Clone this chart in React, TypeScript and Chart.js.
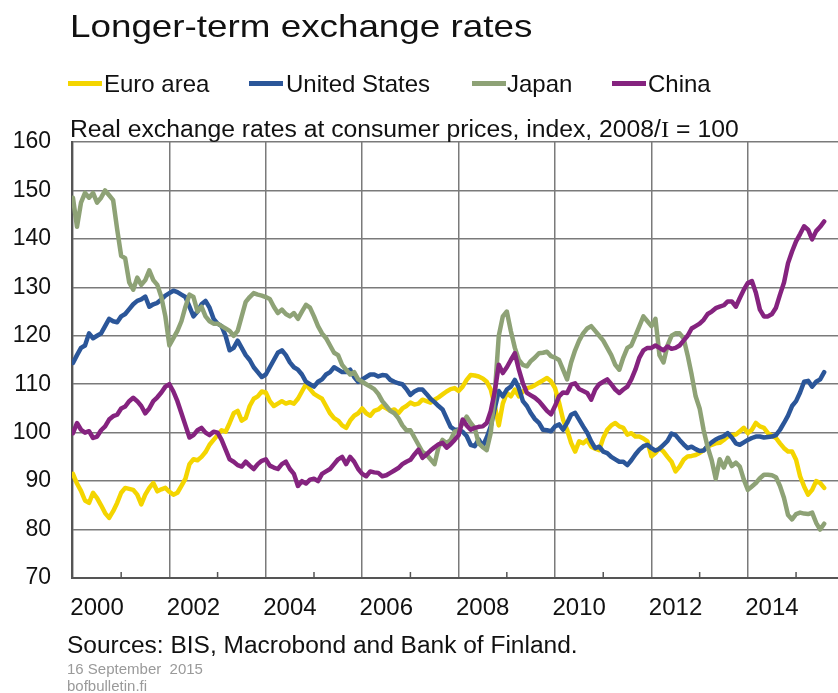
import React, { useEffect, useRef } from "react";
import { Chart, registerables } from "chart.js";

Chart.register(...registerables);

// Monthly data, first value = January 2000
const START_YEAR = 2000;

const EURO_AREA = [
  91.5, 89.5, 88, 86, 85.5, 87.6, 86.5, 85, 83.4, 82.4, 83.8, 85.5,
  87.6, 88.6, 88.4, 88.2, 87.2, 85.2, 87.2, 88.6, 89.6, 87.9, 88.3, 88.6,
  87.8, 87.2, 87.6, 89, 90.5, 93.5, 94.5, 94.3, 95, 96, 97.5, 98.5,
  99.5, 100.5, 100.2, 102, 104, 104.5, 102.5, 103, 105.5, 107, 107.5, 108.5,
  108.3, 106.5, 105.5, 106, 106.5, 106, 106.3, 106, 107, 108.5, 110, 109,
  108, 107.5, 107, 105.5, 104, 103, 102.5, 101.5, 101, 102.5, 103.5, 104,
  105, 104, 103.5, 104.5, 104.8, 105.5, 105, 104.5, 104.8, 104, 105, 105.5,
  106.2, 105.8, 106, 106.8, 106.5, 106.2, 106.8, 107.3, 107.9, 108.5, 109, 109.2,
  108.6, 109.5, 110.9, 111.9, 111.8, 111.6, 111.2, 110.5, 108.9, 105.5, 101.5, 106,
  108.2, 107.5, 108.9, 107.5, 108.5, 109.2, 109.4, 109.8, 110.3, 110.8, 111.3, 110.6,
  109.2, 106.2, 102.7, 100.6, 97.9, 96.1, 98.2, 97.8, 98.5, 97.1, 96.7, 96.4,
  98.9, 100.6, 101.5, 102, 101.3, 101, 99.6, 99.9, 99.2, 99.2, 98.8, 98.2,
  95.1, 95.8, 96.8, 96.1, 95, 94, 92, 93, 94.4, 95.1, 95.2, 95.4,
  95.8, 96.4, 97.1, 97.5, 97.8, 97.9, 98.5, 99.2, 99.5, 99.6, 100.3, 101,
  99.9, 100.6, 102, 101.3, 101, 99.9, 99.4, 98.9, 97.8, 96.8, 96.1, 96.1,
  94.4, 91, 88.9, 87.2, 88.2, 90, 89.6, 88.6,
];

const UNITED_STATES = [
  114.4, 116, 117.5, 118, 120.5, 119.5, 120, 120.5, 122, 123.5, 123, 122.8,
  124, 124.5, 125.5, 126.5, 127.2, 127.5, 128.1, 126, 126.5, 126.8, 127.5, 128.3,
  128.8, 129.3, 129, 128.5, 128, 126, 124, 125, 126.5, 127.2, 125.8, 123.5,
  122.5, 122, 120, 117, 117.5, 119, 117.5, 116, 115, 113.5, 112.5, 111.5,
  112, 113.5, 115, 116.5, 117, 116, 114.5, 113.5, 113, 112, 110.5, 110,
  109.5, 110.5, 111, 112, 112.5, 113.5, 113, 112.5, 112.5, 113, 111.5, 110.5,
  111, 111.5, 112, 112, 111.6, 111.9, 111.8, 110.9, 110.5, 110.2, 110, 109,
  107.8, 108.5, 108.9, 108.9, 108, 107, 106.3, 105.5, 104.8, 103, 101.2, 100.6,
  100.6, 100.2, 99.3, 97.5, 97.2, 98.6, 97.2, 99, 101.3, 105, 108.6, 107.5,
  108.9, 109.5, 110.9, 109.2, 106.5, 105.5, 104, 102.8, 102, 100.6, 100.5, 100.3,
  101.3, 101.7, 100.6, 102, 103.7, 104.1, 102.7, 101.3, 100, 98.2, 96.8, 97.1,
  96.1, 95.8, 95, 94.5, 94, 94, 93.3, 94.3, 95.5, 96.5, 97.2, 97.5,
  96.8, 96.3, 96.7, 97.5, 98.3, 99.8, 99.5, 98.5, 97.6, 96.8, 97.1, 96.6,
  96.2, 96.3, 97.3, 98, 98.6, 99, 99.3, 99.9, 99, 97.8, 97.5, 98,
  98.5, 98.9, 99.2, 99.2, 99, 99.1, 99.2, 99.5, 100.6, 102, 103.5, 105.5,
  106.5, 108.3, 110.5, 110.7, 109.5, 110.5, 111, 112.5,
];

const JAPAN = [
  148.5, 142.5, 147.5, 149.5, 148.5, 149.5, 147.5, 148.5, 150, 149, 148, 142,
  136.5, 136, 131, 129.5, 132, 130.5, 131.5, 133.5, 131.5, 130.5, 128, 124,
  118, 119.5, 121, 123, 126, 128.5, 128, 125, 126, 124, 123, 122.5,
  122.5, 122, 121.5, 121, 120, 121, 124, 127, 128, 128.8, 128.5, 128.3,
  128, 127.6, 126, 124.7, 125.4, 124.5, 124, 124.7, 123.5, 125, 126.4, 125.8,
  124, 122, 120.5, 119.5, 118, 116.5, 116, 114, 113, 112, 112.5, 111,
  110.5, 110, 109.5, 109, 108, 106.5, 105.5, 104.5, 104, 103, 101.5, 100.5,
  100.5, 99, 97.5, 96, 95.5, 94.5, 93.5, 97, 98.5, 97.8, 98.5, 100.2,
  100.5, 102, 103.3, 102, 101, 97.8, 97, 96.4, 100, 108, 120, 124,
  125, 121, 117.5, 115, 114, 113.7, 114.8, 115.5, 116.4, 116.5, 116.7, 115.8,
  115.5, 115, 113, 111, 114.5, 117, 119, 120.5, 121.5, 122, 121, 120,
  119, 117.5, 116, 114, 113, 115.5, 117.5, 118, 120, 122, 124, 123,
  122, 123.5, 116, 114.5, 118, 120, 120.5, 120.5, 119.5, 116, 112, 107.5,
  105, 100.5, 97, 94.3, 90.5, 94.5, 92.8, 94.8, 93.1, 93.8, 93, 90.3,
  88.2, 88.9, 89.6, 90.6, 91.3, 91.3, 91.2, 90.8, 89, 86.5, 83, 82.1,
  83.2, 83.5, 83.3, 83.2, 83.5, 81.4, 80, 81.2,
];

const CHINA = [
  99.9, 102, 100.6, 100, 100.3, 98.9, 99.2, 100.5, 101.3, 102.7, 103.4, 103.7,
  105, 105.4, 106.5, 107.2, 106.5, 105.5, 104, 105, 106.5, 107.3, 108.3, 109.5,
  110, 108.5, 106.5, 104, 101.5, 99, 99.5, 100.5, 101, 100, 99.5, 100.2,
  100, 98.5, 96.5, 94.5, 94, 93.3, 93, 94, 93.2, 92.5, 93.5, 94.2,
  94.5, 93.2, 92.8, 92.5, 93.5, 94, 92.5, 91.5, 89, 90, 89.5, 90.3,
  90.5, 90, 91.5, 92, 92.5, 93.5, 94.5, 95, 93.5, 95, 94, 92.5,
  91.5, 91, 92, 91.8, 91.7, 91, 91.2, 91.7, 92.2, 92.7, 93.5, 94,
  94.4, 95.5, 96.5, 94.8, 95.5, 96.3, 97, 97.6, 97.9, 96.9, 97.6, 98.5,
  99.5, 102.7, 101.5, 100.6, 101, 101.2, 101.3, 102, 104.5, 108.5, 114, 112.3,
  113.5, 115, 116.4, 113, 110.2, 108.2, 107.7, 107.2, 106.5, 105.5, 104.5, 103.8,
  105.5, 107.5, 108.3, 108.2, 109.9, 110.2, 109, 108.6, 108.2, 106.8, 108.9, 110,
  110.5, 111, 110, 108.9, 108.2, 108.9, 109.5, 111, 113, 115.5, 117, 117.5,
  117.5, 118, 117.5, 117, 117.8, 117.3, 117.5, 118, 119, 120, 121.5, 122,
  122.5, 123.3, 124.5, 125, 125.7, 126, 126.3, 127.1, 127.1, 126, 127.8, 129.5,
  130.9, 131.3, 128.9, 125.4, 124, 124, 124.5, 125.8, 128.5, 131, 135, 137.4,
  139.5, 141, 142.6, 141.9, 139.9, 141.6, 142.5, 143.6,
];

const SERIES_NAMES = ["Euro area", "United States", "Japan", "China"];
const SERIES_VALUES = [EURO_AREA, UNITED_STATES, JAPAN, CHINA];
const SERIES_COLORS = ["#F4D500", "#2B5699", "#8EA276", "#85237F"];

const Y_MIN = 70;
const Y_MAX = 160;
const Y_STEP = 10;
const X_MIN = 1999.98;
const X_MAX = 2015.87;
const GRID_YEARS = [2000, 2002, 2004, 2006, 2008, 2010, 2012, 2014];
const LABEL_YEARS = [2000, 2002, 2004, 2006, 2008, 2010, 2012, 2014];
const MINOR_TICK_YEARS = [2001, 2003, 2005, 2007, 2009, 2011, 2013, 2015];

const TITLE = "Longer-term exchange rates";
const SUBTITLE_A = "Real exchange rates at consumer prices, index, 2008/";
const SUBTITLE_B = "I";
const SUBTITLE_C = " = 100";
const SOURCES = "Sources: BIS, Macrobond and Bank of Finland.";
const DATE_NOTE = "16 September\u00a0 2015";
const SITE_NOTE = "bofbulletin.fi";

const FONT = "'Liberation Sans', Arial, Helvetica, sans-serif";
const GRID_COLOR = "#7a7a7a";
const AXIS_COLOR = "#555555";
const TEXT_COLOR = "#111111";

const LEGEND_POS = [
  { line: 68, text: 104 },
  { line: 249, text: 286 },
  { line: 472, text: 507 },
  { line: 612, text: 648 },
];

const minorTicksPlugin = {
  id: "minorTicks",
  afterDatasetsDraw(chart: any) {
    const { ctx, chartArea } = chart;
    const x = chart.scales.x;
    ctx.save();
    ctx.strokeStyle = AXIS_COLOR;
    ctx.lineWidth = 1.5;
    MINOR_TICK_YEARS.forEach((yr) => {
      const px = x.getPixelForValue(yr);
      if (px < chartArea.left || px > chartArea.right) return;
      ctx.beginPath();
      ctx.moveTo(px, chartArea.bottom);
      ctx.lineTo(px, chartArea.bottom - 6);
      ctx.stroke();
    });
    ctx.restore();
  },
};

export default function App() {
  const canvasRef = useRef<HTMLCanvasElement | null>(null);

  useEffect(() => {
    if (!canvasRef.current) return;
    const xTicks: number[] = [];
    GRID_YEARS.forEach((y) => xTicks.push(y));
    LABEL_YEARS.forEach((y) => xTicks.push(y + 0.5));
    xTicks.sort((a, b) => a - b);

    const chart = new Chart(canvasRef.current, {
      type: "line",
      data: {
        datasets: SERIES_NAMES.map((name, k) => ({
          label: name,
          data: SERIES_VALUES[k].map((v, i) => ({ x: START_YEAR + i / 12, y: v })),
          borderColor: SERIES_COLORS[k],
          backgroundColor: SERIES_COLORS[k],
          borderWidth: 4.5,
          pointRadius: 0,
          tension: 0,
          borderJoinStyle: "round" as const,
          borderCapStyle: "round" as const,
          order: SERIES_NAMES.length - k,
        })),
      },
      options: {
        animation: false,
        responsive: false,
        maintainAspectRatio: false,
        layout: { padding: { top: 142, left: 0, right: 0, bottom: 65 } },
        plugins: {
          legend: { display: false },
          title: { display: false },
          tooltip: { enabled: false },
        },
        scales: {
          x: {
            type: "linear",
            min: X_MIN,
            max: X_MAX,
            afterBuildTicks: (scale: any) => {
              scale.ticks = xTicks.map((v) => ({ value: v }));
            },
            afterFit: (scale: any) => {
              scale.height = 50;
            },
            grid: {
              color: (ctx: any) => {
                const v = ctx.tick ? ctx.tick.value : 0;
                return GRID_YEARS.includes(v) ? GRID_COLOR : "rgba(0,0,0,0)";
              },
              lineWidth: 1.5,
              drawTicks: false,
            },
            border: { display: true, color: AXIS_COLOR, width: 2 },
            ticks: {
              autoSkip: false,
              maxRotation: 0,
              minRotation: 0,
              padding: 16,
              color: TEXT_COLOR,
              font: { family: FONT, size: 24 },
              callback: (value: any) => {
                const v = Number(value);
                return Math.abs(v - Math.floor(v) - 0.5) < 1e-6 ? String(Math.floor(v)) : "";
              },
            },
          },
          y: {
            min: Y_MIN,
            max: Y_MAX,
            afterFit: (scale: any) => {
              scale.width = 72;
            },
            grid: { color: GRID_COLOR, lineWidth: 1.5, drawTicks: false },
            border: { display: true, color: AXIS_COLOR, width: 2 },
            ticks: {
              stepSize: Y_STEP,
              padding: 21,
              color: TEXT_COLOR,
              font: { family: FONT, size: 23 },
            },
          },
        },
      },
      plugins: [minorTicksPlugin],
    });
    return () => chart.destroy();
  }, []);

  const textBase: React.CSSProperties = {
    position: "absolute",
    fontFamily: FONT,
    color: TEXT_COLOR,
    lineHeight: 1,
    whiteSpace: "nowrap",
    transformOrigin: "left top",
  };

  return (
    <div
      style={{
        position: "fixed",
        left: 0,
        top: 0,
        width: 838,
        height: 693,
        background: "#ffffff",
        overflow: "hidden",
      }}
    >
      <canvas
        ref={canvasRef}
        width={838}
        height={693}
        style={{ position: "absolute", left: 0, top: 0, width: 838, height: 693 }}
      />
      <div style={{ ...textBase, left: 70, top: 10, fontSize: 32, transform: "scaleX(1.15)" }}>
        {TITLE}
      </div>
      {SERIES_NAMES.map((name, k) => (
        <React.Fragment key={name}>
          <div
            style={{
              position: "absolute",
              left: LEGEND_POS[k].line,
              top: 81,
              width: 34,
              height: 5,
              background: SERIES_COLORS[k],
            }}
          />
          <div style={{ ...textBase, left: LEGEND_POS[k].text, top: 72, fontSize: 24 }}>{name}</div>
        </React.Fragment>
      ))}
      <div style={{ ...textBase, left: 70, top: 118, fontSize: 23, transform: "scaleX(1.075)" }}>
        {SUBTITLE_A}
        <span style={{ fontFamily: "'Liberation Serif', 'Times New Roman', serif" }}>{SUBTITLE_B}</span>
        {SUBTITLE_C}
      </div>
      <div style={{ ...textBase, left: 67, top: 634, fontSize: 23, transform: "scaleX(1.065)" }}>
        {SOURCES}
      </div>
      <div style={{ ...textBase, left: 67, top: 661, fontSize: 15, color: "#9a9a9a" }}>{DATE_NOTE}</div>
      <div style={{ ...textBase, left: 67, top: 678, fontSize: 15, color: "#9a9a9a" }}>{SITE_NOTE}</div>
    </div>
  );
}
